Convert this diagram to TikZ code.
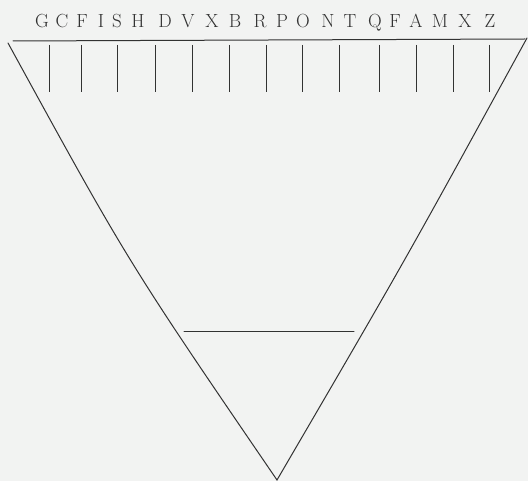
\documentclass[tikz,border=0pt]{standalone}
\usepackage{xcolor}
\definecolor{paper}{RGB}{242,243,242}
\definecolor{ink}{RGB}{50,50,50}
\tikzset{
  ln/.style={ink,line width=1pt,line cap=round},
  tk/.style={ink,line width=0.9pt},
  lt/.style={ink,anchor=base,inner sep=0pt,font=\fontsize{19}{21}\selectfont}
}
\begin{document}
\begin{tikzpicture}[x=1pt,y=-1pt]
\fill[paper] (0,0) rectangle (528,481);
\useasboundingbox (0,0) rectangle (528,481);
% letters along the top
\foreach \x/\l [count=\i] in {42/G,62/C,82/F,101/I,117/S,138/H,165/D,188/V,212/X,235/B,260/R,282/P,303/O,328/N,350/T,375/Q,395/F,416/A,440/M,465/X,490/Z}
  \node[lt] (lt\i) at (\x,28) {\l};
% frame
\coordinate (hl) at (13,41); \coordinate (hr) at (525,39);
\coordinate (tl) at (8,43); \coordinate (tr) at (527,38);
\coordinate (apex) at (277,480);
\draw[ln] (hl) -- (hr);
\draw[ln] (tl) .. controls (128,262) .. (apex) .. controls (406,259) .. (tr);
\foreach \x [count=\i] in {49,81,117,155,192,229,266,302,339,379,416,453,489}
  \draw[tk] (\x,45) coordinate (t\i) -- (\x,92);
\coordinate (cl) at (184,332); \coordinate (cr) at (354,332);
\draw[ln] (cl) -- (cr);
\end{tikzpicture}
\end{document}
